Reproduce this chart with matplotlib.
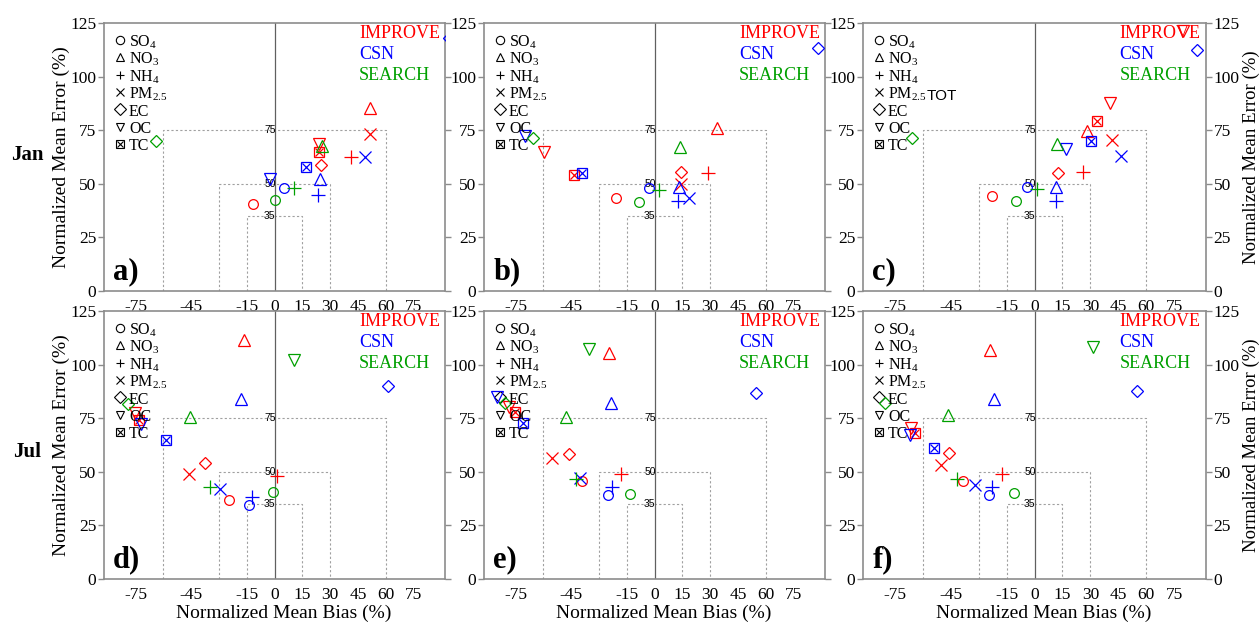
import numpy as np
import matplotlib
matplotlib.use('Agg')
from matplotlib import pyplot as plt

nan = np.nan

species = ['SO$_4$', 'NO$_3$', 'NH$_4$', 'PM$_{2.5}$', 'EC', 'OC', 'TC']
networks = ['IMPROVE', 'CSN', 'SEARCH']
net_colors = ['#ff0000', '#0000ff', '#00a000']
markers = ['o', '^', '+', 'x', 'D', 'v', 's']
msizes = [7, 9, 10, 8, 6.5, 9, 7]

# rows: IMPROVE, CSN, SEARCH ; columns follow species order
nmb_a = [[-11.5, 51.3, 41.2, 51.6, 25.3, 23.8, 23.8],
         [5.0, 24.7, 23.3, 49.0, 94.0, -2.2, 17.2],
         [0.5, 25.6, 10.4, nan, -64.0, nan, nan]]
nme_a = [[40.6, 85.4, 62.4, 73.0, 58.8, 68.7, 64.8],
         [47.9, 52.3, 45.0, 62.4, 118.0, 52.3, 57.7],
         [42.4, 67.4, 47.9, nan, 70.0, nan, nan]]

nmb_b = [[-21.0, 33.5, 28.7, 14.3, 14.3, -59.7, -43.5],
         [-2.7, 13.1, 12.5, 18.4, 88.4, -69.9, -39.1],
         [-8.4, 13.8, 2.3, nan, -65.4, nan, nan]]
nme_b = [[43.2, 76.0, 54.9, 50.0, 55.4, 64.8, 54.2],
         [47.9, 48.4, 42.1, 43.2, 113.4, 72.1, 55.1],
         [41.7, 67.0, 47.1, nan, 71.3, nan, nan]]

nmb_c = [[-22.7, 28.3, 26.2, 41.8, 12.5, 40.5, 33.7],
         [-3.9, 11.3, 11.3, 46.2, 87.1, 16.7, 30.5],
         [-9.7, 12.2, 1.1, nan, -65.8, nan, nan]]
nme_c = [[44.1, 74.4, 55.4, 70.2, 54.9, 87.9, 79.1],
         [48.7, 48.4, 42.1, 62.9, 112.4, 66.0, 69.8],
         [42.1, 68.4, 47.6, nan, 71.3, nan, nan]]
# one more IMPROVE OC point sitting under the network label in c)
extra_c_nmb = [79.6]
extra_c_nme = [121.3]

nmb_d = [[-24.4, -16.5, 1.4, -46.1, -37.6, -75.5, -73.0],
         [-13.8, -18.3, -12.0, -29.6, 61.1, -72.0, -58.6],
         [-0.9, -45.7, -34.8, nan, -79.2, 10.4, nan]]
nme_d = [[36.8, 111.5, 48.1, 48.9, 53.9, 77.5, 74.0],
         [34.4, 83.8, 38.3, 41.8, 90.2, 72.3, 64.8],
         [40.7, 75.7, 42.7, nan, 81.6, 102.2, nan]]

nmb_e = [[-39.1, -24.7, -17.9, -55.5, -46.2, -78.5, -75.5],
         [-25.3, -23.5, -22.9, -40.0, 54.5, -85.2, -70.8],
         [-13.4, -48.0, -42.6, nan, -80.8, -35.5, nan]]
nme_e = [[45.8, 105.6, 48.9, 56.3, 58.3, 80.0, 78.0],
         [39.1, 82.2, 42.7, 47.2, 86.9, 84.7, 72.9],
         [39.6, 75.4, 46.6, nan, 82.3, 107.2, nan]]

nmb_f = [[-38.4, -23.7, -17.4, -50.2, -46.1, -66.2, -64.1],
         [-24.6, -21.9, -22.8, -31.7, 55.2, -66.8, -54.1],
         [-11.1, -46.4, -41.6, nan, -80.1, 31.4, nan]]
nme_f = [[45.8, 106.9, 48.9, 53.1, 58.6, 70.3, 68.2],
         [39.1, 83.8, 42.7, 43.8, 87.9, 67.1, 61.0],
         [40.2, 76.5, 46.6, nan, 82.0, 108.0, nan]]

box_half = [60, 30, 15]
box_nme = [75, 50, 35]
xticks = [-75, -45, -15, 0, 15, 30, 45, 60, 75]
yticks = [0, 25, 50, 75, 100, 125]

plt.rcParams['font.family'] = ['Liberation Serif', 'DejaVu Serif']
plt.rcParams['mathtext.fontset'] = 'custom'
plt.rcParams['mathtext.rm'] = 'Liberation Serif'
plt.rcParams['mathtext.it'] = 'Liberation Serif:italic'
plt.rcParams['mathtext.bf'] = 'Liberation Serif:bold'
plt.rcParams['mathtext.default'] = 'regular'
plt.rcParams['axes.unicode_minus'] = False

fig = plt.figure(figsize=(12.6, 6.22), dpi=100)

lefts = [104, 484, 863]
widths = [341, 341, 343]
tops = [23, 311]
H = 268

panels = [('a)', nmb_a, nme_a), ('b)', nmb_b, nme_b), ('c)', nmb_c, nme_c),
          ('d)', nmb_d, nme_d), ('e)', nmb_e, nme_e), ('f)', nmb_f, nme_f)]

spine_col = '#8c8c8c'

for i, (lab, nmb, nme) in enumerate(panels):
    row, col = divmod(i, 3)
    l = lefts[col] / 1260
    w = widths[col] / 1260
    b = 1 - (tops[row] + H) / 622
    ax = fig.add_axes([l, b, w, H / 622])
    ax.set_xlim(-92, 92)
    ax.set_ylim(0, 125)

    # soccer goal boxes
    for half, h in zip(box_half, box_nme):
        ax.plot([-half, -half, half, half], [0, h, h, 0], color='#a0a0a0',
                lw=0.8, ls=(0, (2, 2)), zorder=1)
        ax.text(0.6, h, str(h), ha='right', va='center', fontsize=7.5,
                family='Liberation Sans', zorder=2)
    ax.axvline(0, color='#606060', lw=0.9, zorder=1.5)

    nmb = np.array(nmb)
    nme = np.array(nme)
    for n in range(3):
        for s in range(7):
            ax.plot(nmb[n, s], nme[n, s], ls='none', marker=markers[s],
                    ms=msizes[s], mfc='none', mec=net_colors[n], mew=0.9, zorder=3)
            if s == 6:
                ax.plot(nmb[n, s], nme[n, s], ls='none', marker='x',
                        ms=msizes[s] * 0.85, mec=net_colors[n], mew=0.9, zorder=3)
    if lab == 'c)':
        ax.plot(extra_c_nmb, extra_c_nme, ls='none', marker='v', ms=9,
                mfc='none', mec=net_colors[0], mew=0.9, zorder=3)

    # species legend (black symbols)
    for s in range(7):
        yy = 0.936 - s * 0.0645
        ax.plot(0.047, yy, transform=ax.transAxes, ls='none', marker=markers[s],
                ms=6, mfc='none', mec='black', mew=0.8)
        if s == 6:
            ax.plot(0.047, yy, transform=ax.transAxes, ls='none', marker='x',
                    ms=5, mec='black', mew=0.8)
        t = ax.text(0.073, yy - 0.024, species[s], transform=ax.transAxes,
                    fontsize=11.5, va='baseline', ha='left')
        if lab == 'c)' and s == 3:
            ax.annotate('TOT', xy=(1, 0), xycoords=t, va='bottom', ha='left',
                        fontsize=11, family='Liberation Sans')

    for n in range(3):
        ax.text(0.748, 0.943 - n * 0.078, networks[n], color=net_colors[n],
                transform=ax.transAxes, fontsize=13, va='baseline', ha='left')

    ax.text(0.027, 0.045, lab, transform=ax.transAxes, fontsize=22,
            fontweight='bold', va='baseline', ha='left')

    ax.set_xticks(xticks)
    ax.set_yticks(yticks)
    ax.tick_params(axis='x', length=0, pad=6, labelsize=12.5)
    ax.tick_params(axis='y', direction='out', length=4, pad=1.5, width=1,
                   color=spine_col, labelsize=12.5, right=True,
                   labelright=(col == 2))
    for sp in ax.spines.values():
        sp.set_color(spine_col)
        sp.set_linewidth(1.2)

    if col == 0:
        ax.set_ylabel('Normalized Mean Error (%)', fontsize=14)
        ax.yaxis.set_label_coords(-0.1, 0.5)
    if col == 2:
        ax.yaxis.set_label_position('right')
        ax.set_ylabel('Normalized Mean Error (%)', fontsize=13.5, rotation=90)
        ax.yaxis.set_label_coords(1.108, 0.5)
    if row == 1:
        ax.set_xlabel('Normalized Mean Bias (%)', fontsize=14)
        ax.xaxis.set_label_coords(0.527, -0.094)

fig.text(27 / 1260, 1 - 155 / 622, 'Jan', fontsize=15, fontweight='bold',
         ha='center', va='center')
fig.text(27 / 1260, 1 - 452 / 622, 'Jul', fontsize=15, fontweight='bold',
         ha='center', va='center')

plt.savefig('out.png', dpi=100)
